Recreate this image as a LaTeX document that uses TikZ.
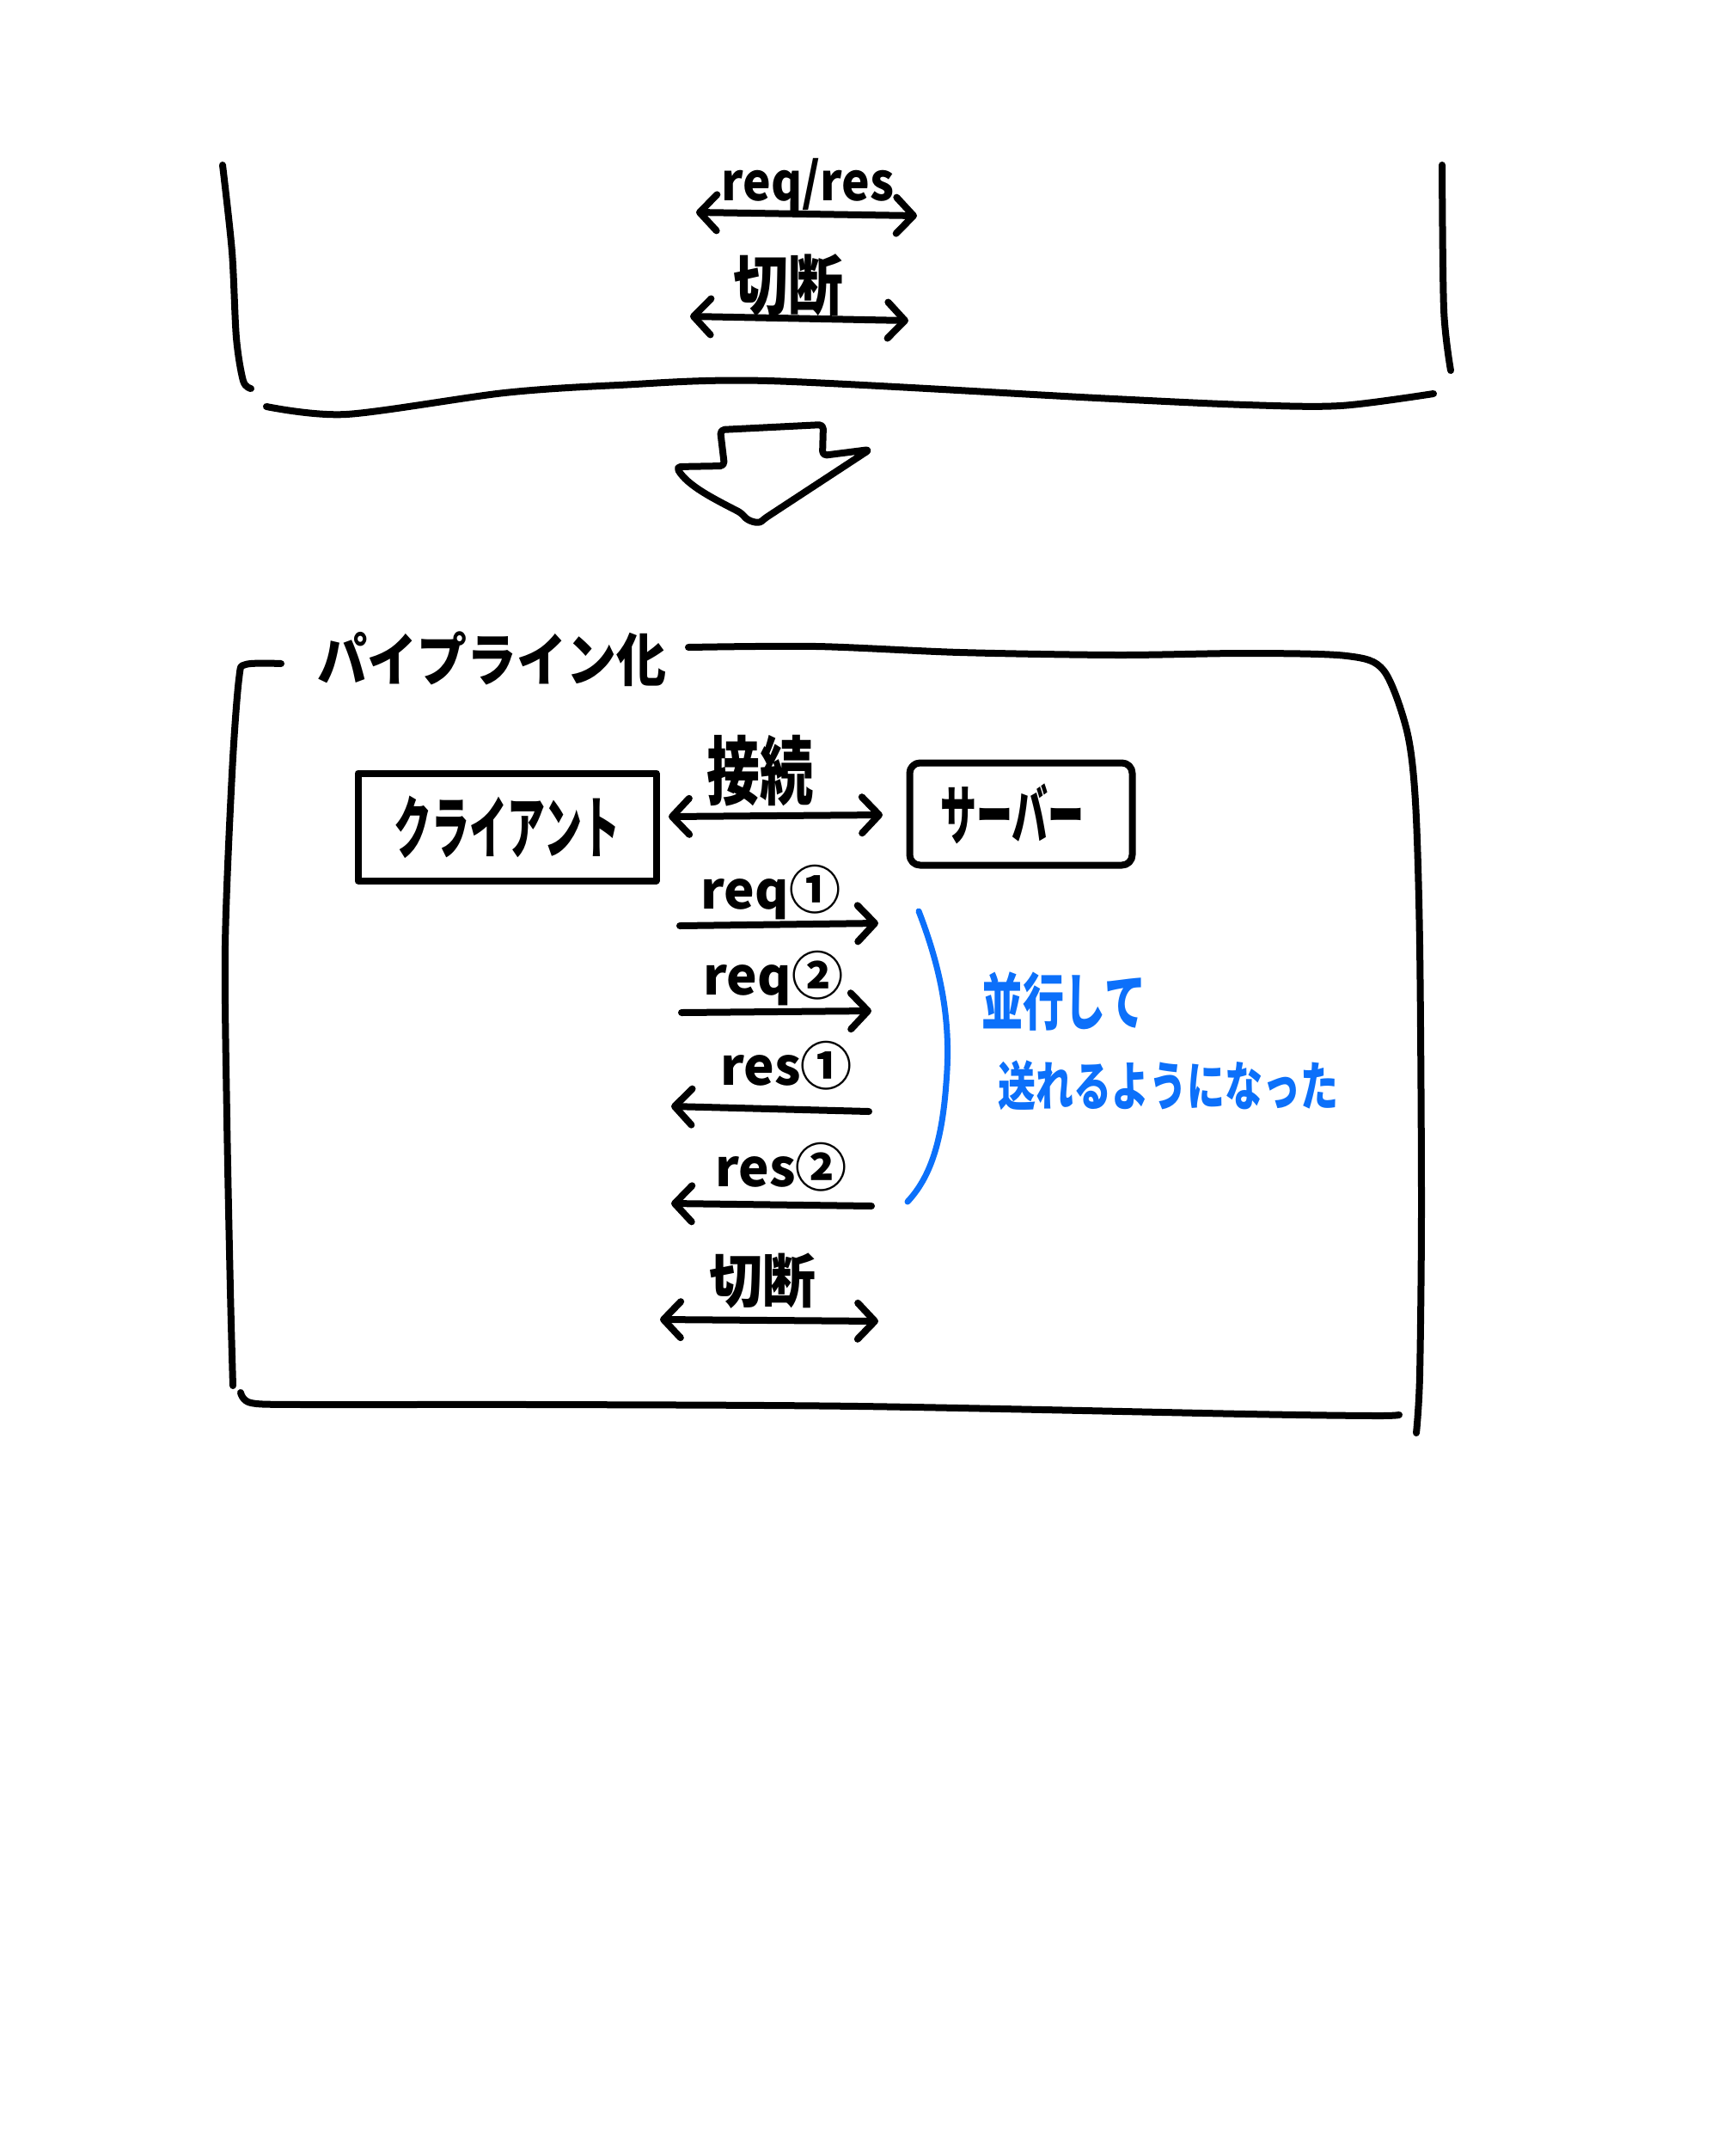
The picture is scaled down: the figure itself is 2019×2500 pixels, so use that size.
\documentclass[tikz,border=0pt]{standalone}
\usepackage{fontspec}
\usepackage{graphicx}
\newfontfamily\jp{Noto Sans CJK JP}
\usetikzlibrary{arrows.meta}
\definecolor{blueink}{RGB}{12,112,250}
\newcommand{\tallt}[2]{\scalebox{1}[#1]{#2}}
\begin{document}
\begin{tikzpicture}[x=1pt,y=-1pt,
  pen/.style={line width=8pt,line cap=round,line join=round},
  bluepen/.style={pen,draw=blueink,line width=7pt},
  barb/.tip={Straight Barb[length=20pt,width=42pt,round]},
  rarrow/.style={pen,-barb},
  darrow/.style={pen,barb-barb},
  lbl/.style={inner sep=0pt,font=\jp\bfseries\fontsize{#1}{#1}\selectfont},
  bluelbl/.style={lbl=#1,text=blueink},
  boxnode/.style={draw,pen,inner sep=0pt}
]
\fill[white] (0,0) rectangle (2019,2500);
\useasboundingbox (0,0) rectangle (2019,2500);

% ---------- upper frame ----------
\draw[pen] plot[smooth] coordinates {(259,192) (270,293) (275,393) (283,443) (292,452)};
\draw[pen] plot[smooth] coordinates {(310,473) (403,482) (587,457) (720,448) (893,443) (1276,463) (1450,471) (1560,472) (1668,458)};
\draw[pen] plot[smooth] coordinates {(1678,192) (1680,360) (1688,431)};

\node[lbl=55] (reqres) at (940,215) {\tallt{1.1}{req/res}};
\coordinate (rrL) at (810,247);
\coordinate (rrR) at (1067,251);
\draw[darrow] (rrL) -- (rrR);

\node[lbl=64] (cut1) at (917,332) {\tallt{1.2}{切断}};
\coordinate (c1L) at (803,368);
\coordinate (c1R) at (1057,373);
\draw[darrow] (c1L) -- (c1R);

% ---------- big down arrow ----------
\draw[pen,rounded corners=5pt] (843,542) -- (838,500) -- (958,494) -- (957,530) -- (1012,523) -- (890,603)
  .. controls (882,610) and (870,606) .. (863,597)
  .. controls (830,580) and (800,565) .. (787,543) -- cycle;

% ---------- lower frame ----------
\node[lbl=58] (title) at (572,767) {\tallt{1.15}{パイプライン化}};
\draw[pen] plot[smooth] coordinates {(327,772) (286,773) (278,790) (270,900) (262,1100) (264,1300) (268,1500) (271,1612)};
\draw[pen] plot[smooth] coordinates {(280,1620) (292,1632) (353,1634) (620,1634) (1000,1636) (1450,1645) (1600,1647) (1628,1646)};
\draw[pen] plot[smooth] coordinates {(801,753) (950,752) (1117,759) (1300,762) (1450,760) (1567,763) (1610,780) (1637,850) (1647,933) (1652,1100) (1654,1400) (1652,1600) (1648,1667)};

\node[boxnode,minimum width=347pt,minimum height=125pt,font=\jp\bfseries\fontsize{44}{44}\selectfont] (client) at (590,962) {\tallt{1.8}{クライアント}};
\node[boxnode,rounded corners=12pt,minimum width=259pt,minimum height=119pt,font=\jp\bfseries\fontsize{42}{42}\selectfont] (server) at (1188,947) {\tallt{1.8}{サーバー}\hspace*{20pt}};

\node[lbl=62] (conn) at (884,897) {\tallt{1.4}{接続}};
\coordinate (cnL) at (778,950);
\coordinate (cnR) at (1027,948);
\draw[darrow] (cnL) -- (cnR);

\node[lbl=60] (req1) at (897,1038) {req①};
\coordinate (q1L) at (791,1077);
\coordinate (q1R) at (1022,1074);
\draw[rarrow] (q1L) -- (q1R);

\node[lbl=60] (req2) at (900,1138) {req②};
\coordinate (q2L) at (793,1178);
\coordinate (q2R) at (1014,1176);
\draw[rarrow] (q2L) -- (q2R);

\node[lbl=60] (res1) at (915,1240) {res①};
\coordinate (s1R) at (1011,1293);
\coordinate (s1L) at (781,1287);
\draw[rarrow] (s1R) -- (s1L);

\node[lbl=60] (res2) at (909,1358) {res②};
\coordinate (s2R) at (1014,1403);
\coordinate (s2L) at (781,1400);
\draw[rarrow] (s2R) -- (s2L);

\node[lbl=62] (cut2) at (887,1490) {\tallt{1.1}{切断}};
\coordinate (c2L) at (768,1535);
\coordinate (c2R) at (1022,1537);
\draw[darrow] (c2L) -- (c2R);

% ---------- blue bracket and note ----------
\coordinate (brT) at (1069,1060);
\coordinate (brB) at (1056,1398);
\draw[bluepen] (brT) .. controls (1100,1140) and (1106,1200) .. (1101,1260)
  .. controls (1096,1330) and (1082,1370) .. (brB);
\node[bluelbl=48] (note1) at (1238,1165) {\tallt{1.5}{並行して}};
\node[bluelbl=44] (note2) at (1359,1263) {\tallt{1.4}{送れるようになった}};
\end{tikzpicture}
\end{document}
